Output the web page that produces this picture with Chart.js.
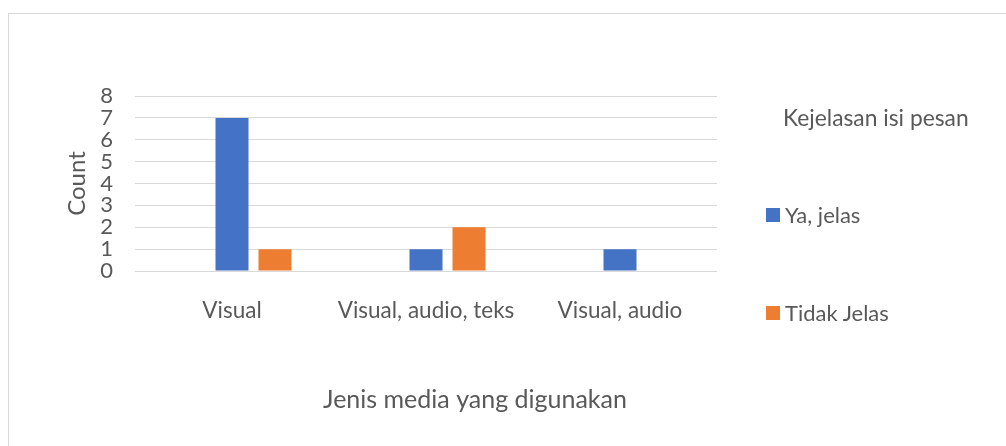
<!DOCTYPE html>
<html>
<head>
<meta charset="utf-8">
<script src="https://cdn.jsdelivr.net/npm/chart.js@4"></script>
<style>
html,body{margin:0;padding:0;background:#fff;}
#wrap{position:relative;width:1006px;height:446px;overflow:hidden;}
#frame{position:absolute;left:8px;top:13px;right:-2px;bottom:-2px;border-left:1px solid #d9d9d9;border-top:1px solid #d9d9d9;}
#c{position:absolute;left:0;top:0;}
#legend{position:absolute;left:0;top:0;font-family:Lato,sans-serif;color:#595959;}
</style>
</head>
<body>
<div id="wrap">
<div id="frame"></div>
<canvas id="c" width="1006" height="446"></canvas>
<div id="legend"></div>
</div>
<script>
const categories = ["Visual", "Visual, audio, teks", "Visual, audio"];
const blankValues = [null, null, null];
const yaJelasValues = [7, 1, 1];
const tidakJelasValues = [1, 2, 0];
const yTicks = [0, 1, 2, 3, 4, 5, 6, 7, 8];
const legendTitle = "Kejelasan isi pesan";
const xTitle = "Jenis media yang digunakan";
const yTitle = "Count";

const TXT = '#595959';
const FONT = 'Lato';

const chart = new Chart(document.getElementById('c'), {
  type: 'bar',
  data: {
    labels: categories,
    datasets: [
      {label: '(blank)', data: blankValues, backgroundColor: '#A5A5A5', inLegend: false},
      {label: 'Ya, jelas', data: yaJelasValues, backgroundColor: '#4472C4'},
      {label: 'Tidak Jelas', data: tidakJelasValues, backgroundColor: '#ED7D31'}
    ]
  },
  options: {
    responsive: false,
    animation: false,
    events: [],
    categoryPercentage: 0.665,
    barPercentage: 0.7674,
    layout: {padding: {left: 0, right: 56, top: 96, bottom: 0}},
    plugins: {
      legend: {display: false},
      tooltip: {enabled: false},
      title: {
        display: true, position: 'bottom', text: xTitle, color: TXT,
        font: {family: FONT, size: 25, weight: 'normal', lineHeight: 1.2},
        padding: {top: 0, bottom: 31}
      }
    },
    scales: {
      x: {
        grid: {display: false},
        border: {display: false},
        ticks: {color: TXT, font: {family: FONT, size: 22.5, lineHeight: 1.2}, padding: 18.5, maxRotation: 0, autoSkip: false},
        afterFit: s => { s.height = 446 - 31 - 30 - 271; }
      },
      y: {
        min: 0, max: 8,
        afterBuildTicks: s => { s.ticks = yTicks.map(v => ({value: v})); },
        grid: {color: '#d9d9d9', lineWidth: 1, drawTicks: false},
        border: {display: false},
        ticks: {color: TXT, font: {family: FONT, size: 22}, padding: 22, autoSkip: false},
        title: {display: true, text: yTitle, color: TXT, font: {family: FONT, size: 24, lineHeight: 1.2}, padding: {top: 62.6, bottom: 0}},
        afterFit: s => { s.width = 135; }
      },
      yR: {
        position: 'right', display: true,
        grid: {display: false}, border: {display: false}, ticks: {display: false},
        afterFit: s => { s.width = 233; }
      }
    }
  }
});

// HTML legend built from the chart's datasets
const lg = document.getElementById('legend');
function addText(txt, x, yc, size) {
  const d = document.createElement('div');
  d.textContent = txt;
  d.style.cssText = `position:absolute;left:${x}px;top:${yc - size*0.6}px;font-size:${size}px;line-height:${size*1.2}px;white-space:nowrap;`;
  lg.appendChild(d);
  return d;
}
const t = addText(legendTitle, 0, 118, 22.8);
t.style.left = (876 - t.offsetWidth/2) + 'px';
const items = chart.data.datasets.filter(d => d.inLegend !== false);
const itemY = [215, 313];
items.forEach((ds, i) => {
  const sq = document.createElement('div');
  sq.style.cssText = `position:absolute;left:766px;top:${itemY[i]-7}px;width:14px;height:14px;background:${ds.backgroundColor};`;
  lg.appendChild(sq);
  addText(ds.label, 785, itemY[i], 22);
});
</script>
</body>
</html>
